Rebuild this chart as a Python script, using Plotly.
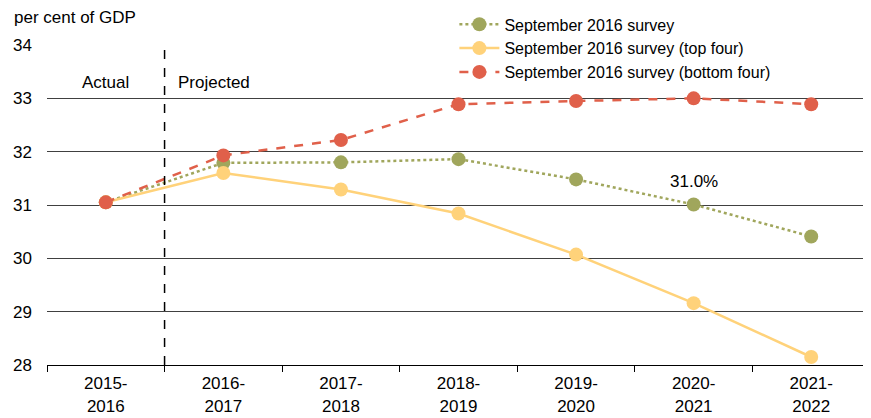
import plotly.graph_objects as go

years = ['2015-<br>2016', '2016-<br>2017', '2017-<br>2018', '2018-<br>2019',
         '2019-<br>2020', '2020-<br>2021', '2021-<br>2022']

survey = [31.05, 31.79, 31.80, 31.86, 31.48, 31.01, 30.41]
top_four = [31.05, 31.60, 31.29, 30.84, 30.07, 29.16, 28.15]
bottom_four = [31.05, 31.93, 32.22, 32.89, 32.95, 33.00, 32.89]

font_name = 'Liberation Sans, Arial, sans-serif'

fig = go.Figure()

fig.add_trace(go.Scatter(x=years, y=survey, name='September 2016 survey',
                         mode='lines+markers',
                         line=dict(color='#A0A65C', width=2.5, dash='dot'),
                         marker=dict(size=14, color='#A0A65C')))
fig.add_trace(go.Scatter(x=years, y=top_four, name='September 2016 survey (top four)',
                         mode='lines+markers',
                         line=dict(color='#FFD27A', width=2.5),
                         marker=dict(size=14, color='#FFD27A')))
fig.add_trace(go.Scatter(x=years, y=bottom_four, name='September 2016 survey (bottom four)',
                         mode='lines+markers',
                         line=dict(color='#E0604A', width=2.5, dash='dash'),
                         marker=dict(size=14, color='#E0604A')))

# actual / projected divider
fig.add_shape(type='line', xref='x', yref='y', x0=0.5, x1=0.5, y0=28, y1=34,
              line=dict(color='black', width=1.5, dash='dash'))

fig.add_annotation(x=0, y=33.3, text='Actual', showarrow=False,
                   font=dict(size=17, color='black'))
fig.add_annotation(x=0.6, y=33.3, text='Projected', showarrow=False, xanchor='left',
                   font=dict(size=17, color='black'))
fig.add_annotation(x=5, y=31.45, text='31.0%', showarrow=False,
                   font=dict(size=17, color='black'))
fig.add_annotation(x=0, y=1.0, xref='paper', yref='paper', xshift=-35, yshift=28,
                   text='per cent of GDP', showarrow=False, xanchor='left',
                   yanchor='middle', font=dict(size=17, color='black'))

# page body adds ~8px offset, so the figure is shrunk to fit the window
fig.update_layout(
    width=863, height=410,
    margin=dict(l=39, r=1, t=37, b=53, autoexpand=False),
    plot_bgcolor='white', paper_bgcolor='white',
    font=dict(family=font_name, size=17, color='black'),
    showlegend=True,
    legend=dict(x=0.495, y=1.1175, xanchor='left', yanchor='top',
                bgcolor='white', font=dict(size=16),
                tracegroupgap=0, itemwidth=40),
    xaxis=dict(type='category', showgrid=False, showline=True, linecolor='black',
               ticks='outside', tickson='boundaries', ticklen=6, tickcolor='black',
               range=[-0.5, 6.5], tickfont=dict(size=17), ticklabelstandoff=3),
    yaxis=dict(range=[28, 34], dtick=1, showgrid=True, gridcolor='#404040',
               gridwidth=1, zeroline=False, showline=False, ticks='',
               tickfont=dict(size=17), ticklabelstandoff=14),
)

fig.write_html("out.html")
